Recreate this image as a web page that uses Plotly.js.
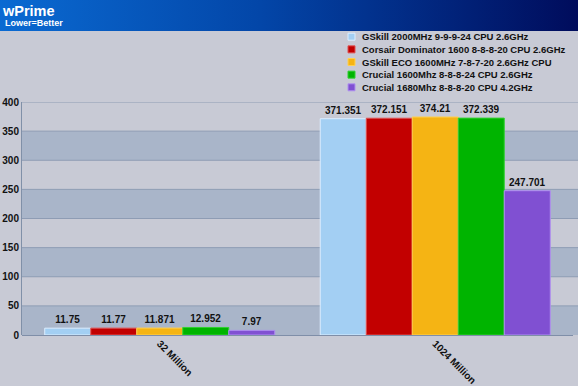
<!DOCTYPE html>
<html><head><meta charset="utf-8">
<script src="https://cdn.plot.ly/plotly-3.0.1.min.js"></script>
<style>
html,body{margin:0;padding:0;background:#c8cad5;}
#wrap{position:relative;width:578px;height:386px;}
#banner{position:absolute;left:0;top:0;width:578px;height:31px;background:linear-gradient(to right,#0a6ad2 0%,#0346a8 45%,#000c5c 100%);}
#chart{position:absolute;left:0;top:0;width:578px;height:386px;}
</style></head>
<body><div id="wrap"><div id="banner"></div><div id="chart"></div></div>
<script>
const categories = ["32 Million", "1024 Million"];
const seriesNames = [
  "GSkill 2000MHz 9-9-9-24 CPU 2.6GHz",
  "Corsair Dominator 1600 8-8-8-20 CPU 2.6GHz",
  "GSkill ECO 1600MHz 7-8-7-20 2.6GHz CPU",
  "Crucial 1600Mhz 8-8-8-24 CPU 2.6GHz",
  "Crucial 1680Mhz 8-8-8-20 CPU 4.2GHz"
];
const gskill2000 = [11.75, 371.351];
const corsair1600 = [11.77, 372.151];
const gskillEco1600 = [11.871, 374.21];
const crucial1600 = [12.952, 372.339];
const crucial1680 = [7.97, 247.701];
const yTicks = [0, 50, 100, 150, 200, 250, 300, 350, 400];

const seriesValues = [gskill2000, corsair1600, gskillEco1600, crucial1600, crucial1680];
const fills = ["#a3cff3", "#c20000", "#f5b414", "#00b400", "#8050d2"];
const edges = ["#dceeff", "#e05050", "#ffd050", "#30d030", "#b090f0"];

const W = 578, H = 386;
const M = {l: 22, r: 5, t: 102, b: 51};
const PW = W - M.l - M.r, PH = H - M.t - M.b;
const px = p => (p - M.l) / PW;        // pixel -> paper x
const py = p => (H - M.b - p) / PH;    // pixel -> paper y
const FONT = "Liberation Sans, Arial, sans-serif";

const traces = seriesValues.map((vals, i) => ({
  type: "bar",
  name: seriesNames[i],
  x: categories,
  y: vals,
  text: vals.map(v => String(v)),
  textposition: "outside",
  cliponaxis: false,
  textfont: {family: FONT, size: 10, color: "#111", weight: "bold"},
  marker: {color: fills[i], line: {color: edges[i], width: 1}},
  hoverinfo: "skip",
  showlegend: false
}));

// alternating background bands built from the tick values
const shapes = [];
for (let k = 0; k + 1 < yTicks.length; k += 2) {
  shapes.push({type: "rect", layer: "below", xref: "paper", yref: "y",
    x0: 0, x1: px(W), y0: yTicks[k], y1: yTicks[k + 1],
    fillcolor: "#a9b5c9", line: {width: 0}});
}
// gridlines across the full width
yTicks.slice(1).forEach(t => shapes.push({type: "line", layer: "below", xref: "paper", yref: "y",
  x0: 0, x1: px(W), y0: t, y1: t, line: {color: "#8e9cb4", width: 1}}));

// compact legend (series names drawn as text)
const annotations = [];
seriesNames.forEach((name, i) => {
  const cy = 36.7 + 12.65 * i;
  shapes.push({type: "rect", xref: "paper", yref: "paper",
    x0: px(348), x1: px(355), y0: py(cy + 3.5), y1: py(cy - 3.5),
    fillcolor: fills[i], line: {color: edges[i], width: 1}});
  annotations.push({xref: "paper", yref: "paper", x: px(359.5), y: py(cy),
    xanchor: "left", yanchor: "middle", showarrow: false, text: name,
    font: {family: FONT, size: 9.5, color: "#111", weight: "bold"}});
});
annotations.push({xref: "paper", yref: "paper", x: px(3), y: py(23),
  xanchor: "left", yanchor: "middle", showarrow: false, text: "Lower=Better",
  font: {family: FONT, size: 9, color: "#ffffff", weight: "bold"}});

const layout = {
  width: W, height: H,
  margin: M,
  paper_bgcolor: "rgba(0,0,0,0)",
  plot_bgcolor: "rgba(0,0,0,0)",
  barmode: "group",
  bargap: 0.165,
  bargroupgap: 0,
  font: {family: FONT, color: "#111"},
  title: {
    text: "wPrime",
    font: {family: FONT, size: 14.5, color: "#ffffff", weight: "bold"},
    x: 3 / W, xanchor: "left", xref: "container",
    y: 1 - 11 / H, yanchor: "middle", yref: "container",
    pad: {l: 0, r: 0, t: 0, b: 0}
  },
  xaxis: {
    tickangle: 45,
    tickfont: {size: 10, weight: "bold", color: "#111"},
    showgrid: false, zeroline: false, showline: false, ticks: ""
  },
  yaxis: {
    range: [0, 400], tickvals: yTicks, ticktext: yTicks.map(String),
    tickfont: {size: 10, weight: "bold", color: "#111"},
    showgrid: false,
    zeroline: true, zerolinecolor: "#7f8ea8", zerolinewidth: 1,
    showline: true, linecolor: "#8090a8", linewidth: 1,
    ticks: "", ticklen: 0
  },
  shapes: shapes,
  annotations: annotations,
  showlegend: false
};

Plotly.newPlot("chart", traces, layout, {displayModeBar: false, staticPlot: true});
</script></body></html>
